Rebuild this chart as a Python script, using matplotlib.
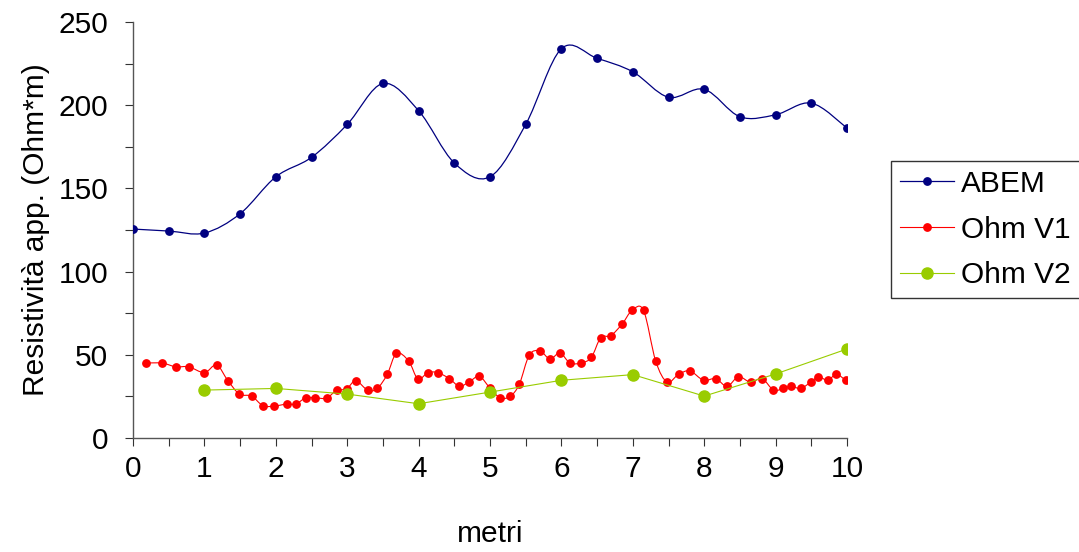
import matplotlib

matplotlib.use("Agg")
import matplotlib.pyplot as plt
import numpy as np
from matplotlib.lines import Line2D
from matplotlib.patches import PathPatch
from matplotlib.path import Path

# ABEM measurements
abem_x = [0.0, 0.5, 1.0, 1.5, 2.0, 2.5, 3.0, 3.5, 4.0, 4.5, 5.0,
          5.5, 6.0, 6.5, 7.0, 7.5, 8.0, 8.5, 9.0, 9.5, 10.0]
abem_y = [125.6, 124.4, 123.2, 134.8, 157.0, 168.7, 188.5, 213.1, 196.7, 165.3, 157.0,
          188.5, 234.0, 228.2, 220.1, 204.8, 209.6, 193.1, 194.3, 201.3, 186.3]

# Ohm V1 measurements
v1_x = [0.18, 0.41, 0.60, 0.78, 1.00, 1.17, 1.33, 1.49, 1.66, 1.82, 1.98,
        2.15, 2.28, 2.42, 2.55, 2.71, 2.85, 2.99, 3.12, 3.29, 3.42, 3.56,
        3.69, 3.86, 3.99, 4.13, 4.27, 4.43, 4.57, 4.70, 4.85, 5.00, 5.14,
        5.28, 5.41, 5.55, 5.70, 5.84, 5.98, 6.12, 6.28, 6.42, 6.55, 6.69,
        6.85, 6.99, 7.15, 7.32, 7.48, 7.64, 7.80, 7.99, 8.16, 8.32, 8.48,
        8.65, 8.81, 8.97, 9.11, 9.22, 9.35, 9.49, 9.60, 9.73, 9.85, 9.98]
v1_y = [45.1, 45.0, 42.8, 42.8, 39.3, 43.9, 34.4, 26.4, 25.2, 19.4, 19.2,
        20.4, 20.4, 24.2, 24.2, 24.0, 28.6, 29.5, 34.4, 28.6, 29.8, 38.2,
        50.9, 46.3, 35.5, 39.3, 39.3, 35.7, 31.1, 33.5, 37.0, 30.0, 24.2,
        25.0, 32.3, 49.9, 52.3, 47.5, 51.1, 45.1, 45.1, 48.5, 60.3, 61.5,
        68.5, 76.7, 76.7, 46.3, 33.6, 38.3, 40.3, 34.7, 35.7, 31.1, 36.8,
        33.5, 35.7, 28.8, 29.8, 31.1, 29.8, 33.5, 36.8, 34.7, 38.3, 34.7]

# Ohm V2 measurements
v2_x = [1, 2, 3, 4, 5, 6, 7, 8, 9, 10]
v2_y = [28.8, 29.8, 26.4, 20.6, 27.6, 34.7, 38.1, 25.2, 38.5, 53.5]

ABEM_COLOR = "#000080"
V1_COLOR = "#FF0000"
V2_COLOR = "#99CC00"
FONT_SIZE = 21.5


def smooth_path(xs, ys) -> Path:
    # Bezier segments like a spreadsheet "smoothed line"
    pts = np.column_stack([xs, ys]).astype(float)
    n = len(pts)
    verts = [pts[0]]
    codes = [Path.MOVETO]
    for i in range(n - 1):
        p0 = pts[i - 1] if i > 0 else pts[i]
        p1 = pts[i]
        p2 = pts[i + 1]
        p3 = pts[i + 2] if i + 2 < n else pts[i + 1]
        c1 = p1 + (p2 - p0) / 6.0
        c2 = p2 - (p3 - p1) / 6.0
        verts.extend([c1, c2, p2])
        codes.extend([Path.CURVE4] * 3)
    return Path(np.array(verts), codes)


plt.rcParams["font.family"] = ["Liberation Sans", "DejaVu Sans"]

fig = plt.figure(figsize=(10.79, 5.52), dpi=100)
ax = fig.add_axes([0.1233, 0.2065, 0.6617, 0.7535])

ax.add_patch(PathPatch(smooth_path(abem_x, abem_y), facecolor="none",
                       edgecolor=ABEM_COLOR, linewidth=0.9, zorder=2))
ax.plot(abem_x, abem_y, linestyle="none", marker="o", markersize=5.3,
        color=ABEM_COLOR, zorder=3)

ax.add_patch(PathPatch(smooth_path(v1_x, v1_y), facecolor="none",
                       edgecolor=V1_COLOR, linewidth=0.8, zorder=2))
ax.plot(v1_x, v1_y, linestyle="none", marker="o", markersize=5.3,
        color=V1_COLOR, zorder=3)

ax.plot(v2_x, v2_y, linestyle="-", linewidth=0.8, marker="o", markersize=8,
        color=V2_COLOR, zorder=4)

ax.set_xlim(0, 10)
ax.set_ylim(0, 250)
ax.set_xticks(np.arange(0, 11, 1))
ax.set_xticks(np.arange(0, 10.01, 0.5), minor=True)
ax.set_yticks(np.arange(0, 251, 50))
ax.set_yticks(np.arange(0, 251, 25), minor=True)
ax.tick_params(which="both", direction="out", length=6, width=0.8, color="#333333")
ax.tick_params(axis="y", which="major", labelsize=FONT_SIZE, pad=12)
ax.tick_params(axis="x", which="major", labelsize=FONT_SIZE, pad=6)

for side in ("top", "right"):
    ax.spines[side].set_visible(False)
for side in ("left", "bottom"):
    ax.spines[side].set_color("#555555")
    ax.spines[side].set_linewidth(1.0)

ax.set_xlabel("metri", fontsize=FONT_SIZE, labelpad=27)
ax.set_ylabel("Resistività app. (Ohm*m)", fontsize=FONT_SIZE, labelpad=6)

handles = [
    Line2D([], [], color=ABEM_COLOR, linewidth=0.9, marker="o", markersize=5.3),
    Line2D([], [], color=V1_COLOR, linewidth=0.8, marker="o", markersize=5.3),
    Line2D([], [], color=V2_COLOR, linewidth=0.8, marker="o", markersize=8),
]
leg = fig.legend(handles, ["ABEM", "Ohm V1", "Ohm V2"], loc="upper left",
                 bbox_to_anchor=(0.826, 0.709), fontsize=FONT_SIZE, frameon=True,
                 fancybox=False, edgecolor="black", handlelength=1.8,
                 handletextpad=0.25, labelspacing=0.6, borderpad=0.3,
                 borderaxespad=0)
leg.get_frame().set_linewidth(1.0)

fig.savefig("out.png", dpi=100)
